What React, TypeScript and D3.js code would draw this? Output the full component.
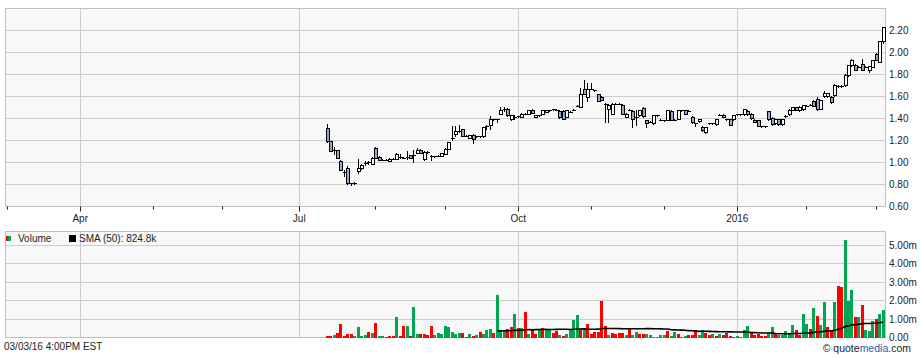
import React from 'react';
import * as d3 from 'd3';

// ---- calendar (TSX trading days) ----
const HOLIDAYS = ['2015-04-03', '2015-05-18', '2015-07-01', '2015-08-03', '2015-09-07', '2015-10-12', '2015-12-25', '2015-12-28', '2016-01-01', '2016-02-15'];
const RANGE_START = '2015-03-03';
const RANGE_END = '2016-03-03';
const DATA_START = '2015-07-14';

// ---- price data (OHLC) ----
const OPEN = [
  1.31, 1.20, 1.11, 1.11, 1.01, 0.915, 0.95, 0.81, 0.815, 0.925,
  0.95, 0.995, 1.005, 0.99, 1.135, 1.05, 1.025, 1.025, 1.015, 1.035,
  1.035, 1.05, 1.045, 1.05, 1.065, 1.065, 1.09, 1.115, 1.03, 1.095,
  1.055, 1.055, 1.06, 1.06, 1.08, 1.125, 1.21, 1.255, 1.285, 1.30,
  1.245, 1.225, 1.25, 1.24, 1.24, 1.245, 1.33, 1.345, 1.395, 1.395,
  1.445, 1.475, 1.49, 1.40, 1.415, 1.42, 1.415, 1.445, 1.445, 1.48,
  1.415, 1.43, 1.445, 1.46, 1.475, 1.485, 1.48, 1.47, 1.47, 1.415,
  1.46, 1.48, 1.515, 1.505, 1.665, 1.60, 1.67, 1.655, 1.62, 1.60,
  1.535, 1.49, 1.445, 1.535, 1.535, 1.525, 1.415, 1.48, 1.47, 1.415,
  1.43, 1.495, 1.385, 1.37, 1.355, 1.43, 1.39, 1.385, 1.39, 1.47,
  1.39, 1.40, 1.475, 1.475, 1.47, 1.415, 1.355, 1.375, 1.325, 1.275,
  1.355, 1.355, 1.35, 1.435, 1.435, 1.395, 1.395, 1.395, 1.44, 1.44,
  1.44, 1.47, 1.445, 1.39, 1.385, 1.33, 1.33, 1.465, 1.405, 1.355,
  1.395, 1.35, 1.42, 1.44, 1.48, 1.50, 1.475, 1.485, 1.515, 1.525,
  1.56, 1.575, 1.49, 1.605, 1.605, 1.60, 1.61, 1.695, 1.695, 1.70,
  1.795, 1.885, 1.89, 1.87, 1.90, 1.87, 1.84, 1.87, 1.99, 1.915,
  2.10,
];
const HIGH = [
  1.35, 1.20, 1.14, 1.115, 1.02, 0.935, 0.97, 0.815, 0.82, 1.035,
  0.99, 1.015, 1.01, 1.05, 1.14, 1.06, 1.035, 1.03, 1.04, 1.04,
  1.09, 1.08, 1.05, 1.10, 1.07, 1.11, 1.13, 1.12, 1.10, 1.10,
  1.07, 1.06, 1.065, 1.09, 1.13, 1.19, 1.335, 1.33, 1.34, 1.305,
  1.25, 1.25, 1.255, 1.245, 1.245, 1.32, 1.345, 1.42, 1.40, 1.40,
  1.50, 1.50, 1.495, 1.435, 1.43, 1.425, 1.45, 1.45, 1.48, 1.485,
  1.435, 1.435, 1.48, 1.48, 1.48, 1.49, 1.485, 1.475, 1.475, 1.48,
  1.465, 1.485, 1.52, 1.675, 1.75, 1.72, 1.72, 1.66, 1.625, 1.605,
  1.54, 1.53, 1.54, 1.54, 1.54, 1.53, 1.45, 1.485, 1.475, 1.475,
  1.48, 1.50, 1.39, 1.375, 1.43, 1.435, 1.395, 1.39, 1.48, 1.475,
  1.395, 1.48, 1.48, 1.48, 1.475, 1.42, 1.36, 1.40, 1.33, 1.325,
  1.36, 1.36, 1.40, 1.44, 1.44, 1.40, 1.40, 1.43, 1.445, 1.445,
  1.49, 1.475, 1.45, 1.395, 1.39, 1.335, 1.335, 1.47, 1.41, 1.40,
  1.40, 1.40, 1.43, 1.485, 1.50, 1.505, 1.51, 1.52, 1.52, 1.53,
  1.565, 1.60, 1.57, 1.65, 1.635, 1.605, 1.71, 1.70, 1.70, 1.80,
  1.89, 1.945, 1.90, 1.875, 1.94, 1.875, 1.88, 1.93, 2.00, 2.10,
  2.235,
];
const LOW = [
  1.19, 1.10, 1.075, 1.04, 0.93, 0.88, 0.805, 0.80, 0.805, 0.905,
  0.94, 0.975, 0.99, 0.985, 1.04, 1.02, 1.02, 1.02, 1.01, 1.03,
  1.03, 1.04, 1.04, 1.03, 1.045, 1.00, 1.085, 1.085, 1.02, 1.09,
  1.02, 1.05, 1.055, 1.055, 1.075, 1.12, 1.205, 1.24, 1.28, 1.24,
  1.24, 1.22, 1.18, 1.235, 1.235, 1.235, 1.30, 1.30, 1.385, 1.37,
  1.44, 1.47, 1.425, 1.39, 1.40, 1.41, 1.41, 1.44, 1.44, 1.45,
  1.41, 1.425, 1.44, 1.455, 1.47, 1.48, 1.475, 1.405, 1.40, 1.41,
  1.455, 1.475, 1.51, 1.50, 1.62, 1.555, 1.665, 1.65, 1.555, 1.565,
  1.37, 1.37, 1.44, 1.53, 1.53, 1.44, 1.41, 1.475, 1.32, 1.34,
  1.425, 1.415, 1.32, 1.365, 1.35, 1.425, 1.385, 1.38, 1.385, 1.385,
  1.385, 1.395, 1.47, 1.44, 1.465, 1.36, 1.33, 1.37, 1.29, 1.27,
  1.35, 1.35, 1.345, 1.43, 1.41, 1.39, 1.34, 1.39, 1.435, 1.435,
  1.435, 1.435, 1.40, 1.365, 1.33, 1.325, 1.325, 1.39, 1.34, 1.35,
  1.34, 1.345, 1.415, 1.435, 1.475, 1.475, 1.47, 1.48, 1.51, 1.52,
  1.51, 1.48, 1.485, 1.60, 1.60, 1.545, 1.605, 1.69, 1.69, 1.695,
  1.79, 1.88, 1.84, 1.865, 1.84, 1.865, 1.82, 1.865, 1.93, 1.91,
  2.09,
];
const CLOSE = [
  1.20, 1.10, 1.11, 1.045, 0.935, 0.915, 0.81, 0.81, 0.815, 0.95,
  0.975, 0.995, 1.005, 1.045, 1.045, 1.025, 1.025, 1.025, 1.035, 1.035,
  1.08, 1.05, 1.045, 1.05, 1.045, 1.065, 1.115, 1.09, 1.095, 1.095,
  1.055, 1.055, 1.06, 1.09, 1.125, 1.185, 1.225, 1.285, 1.285, 1.245,
  1.245, 1.25, 1.21, 1.24, 1.24, 1.32, 1.33, 1.40, 1.395, 1.395,
  1.475, 1.49, 1.43, 1.43, 1.415, 1.42, 1.445, 1.445, 1.475, 1.45,
  1.43, 1.43, 1.475, 1.475, 1.475, 1.485, 1.48, 1.41, 1.40, 1.475,
  1.46, 1.48, 1.515, 1.625, 1.625, 1.67, 1.67, 1.655, 1.56, 1.565,
  1.535, 1.525, 1.535, 1.535, 1.535, 1.445, 1.445, 1.48, 1.40, 1.415,
  1.475, 1.42, 1.355, 1.37, 1.43, 1.43, 1.39, 1.385, 1.475, 1.39,
  1.39, 1.475, 1.475, 1.445, 1.47, 1.365, 1.355, 1.40, 1.295, 1.325,
  1.355, 1.355, 1.395, 1.435, 1.415, 1.395, 1.345, 1.43, 1.44, 1.44,
  1.485, 1.44, 1.405, 1.37, 1.335, 1.33, 1.33, 1.395, 1.35, 1.395,
  1.35, 1.395, 1.42, 1.48, 1.50, 1.475, 1.505, 1.52, 1.515, 1.525,
  1.51, 1.49, 1.565, 1.635, 1.635, 1.55, 1.70, 1.695, 1.695, 1.795,
  1.885, 1.935, 1.845, 1.87, 1.845, 1.87, 1.875, 1.93, 1.935, 2.10,
  2.235,
];

// ---- volume (millions of shares) and up/down day ----
const VOLUME_M = [
  0.09, 0.09, 0.15, 0.27, 0.75, 0.06, 0.2, 0.2, 0.09, 0.58,
  0.09, 0.15, 0.31, 0.27, 0.78, 0.09, 0.09, 0.04, 0.09, 0.09,
  1.11, 0.09, 0.64, 0.64, 0.09, 1.67, 0.2, 0.2, 0.2, 0.15,
  0.64, 0.15, 0.27, 0.2, 0.64, 0.57, 0.31, 0.2, 0.27, 0.27,
  0.04, 0.2, 0.09, 0.15, 0.31, 0.2, 0.42, 0.48, 0.27, 2.33,
  0.42, 0.42, 0.46, 0.55, 1.29, 0.51, 0.51, 1.4, 0.2, 0.46,
  0.2, 0.46, 0.51, 0.46, 0.46, 0.24, 0.38, 0.15, 0.06, 0.2,
  0.46, 0.97, 1.24, 0.46, 0.46, 0.75, 0.2, 0.31, 0.31,
  2.0, 0.6, 0.15, 0.27, 0.2, 0.27, 0.27, 0.15, 0.46, 0.15,
  0.31, 0.2, 0.2, 0.2, 0.15, 0.05, 0.05, 0.15, 0.11, 0.36,
  0.09, 0.31, 0.2, 0.05, 0.09, 0.16, 0.11, 0.35, 0.16, 0.42,
  0.27, 0.13, 0.2, 0.09, 0.2, 0.15, 0.24, 0.09, 0.05, 0.09,
  0.05, 0.42, 0.64, 0.24, 0.15, 0.2, 0.09, 0.09, 0.24, 0.56,
  0.24, 0.15, 0.15, 0.36, 0.2, 0.69, 0.42, 0.15, 1.29, 0.75,
  0.47, 1.6, 1.18, 0.69, 1.91, 0.56, 0.33, 1.91, 2.82, 2.75,
  5.3, 1.97, 2.6, 1.09, 1.09, 1.79, 0.42, 0.36, 0.91, 1.0,
  1.29, 1.47,
];
const VOLUME_DIR =
  'rrgrrrrrgg' + 'ggrgrggrrr' + 'grrgrggrrr' + 'rggggggggr' + 'rgrgrgggrg' +
  'ggrrgrgrgr' + 'rgrggrrgrg' + 'gggrgrrrr' +
  'rrgrrrrgrg' + 'grrggggggr' + 'ggrggrrrgg' + 'rrgrgrrrrg' + 'gggrrrrrgg' +
  'rggggg' + 'rrgg' + 'rgrggrrgrr' + 'gggrgrgggr' + 'gg';

const PRICE_TICKS = [0.6, 0.8, 1.0, 1.2, 1.4, 1.6, 1.8, 2.0, 2.2];
const PRICE_DOMAIN = [0.6, 2.4];
const VOLUME_TICKS_M = [0, 1, 2, 3, 4, 5];
const SMA_PERIOD = 50;
const SMA_LABEL = 'SMA (50): 824.8k';
const VOLUME_LABEL = 'Volume';
const TIMESTAMP = '03/03/16 4:00PM EST';

const FONT = "'Liberation Sans', Arial, sans-serif";
const GRID = '#cccccc';
const BORDER = '#bfbfbf';
const PANEL_BG = '#f8f8f8';
const CANDLE_DOWN = '#93a7c9';
const VOL_UP = '#00a651';
const VOL_DOWN = '#ff0000';

export default function App() {
  const W = 920, H = 358;
  const L = 5, R = 885;
  const pTop = 8.5, pBot = 206.5;
  const vTop = 231.5, vBot = 337.5;

  const key = d3.utcFormat('%Y-%m-%d');
  const parse = d3.utcParse('%Y-%m-%d');
  const days = d3.utcDay
    .range(parse(RANGE_START)!, d3.utcDay.offset(parse(RANGE_END)!, 1))
    .filter((d) => d.getUTCDay() !== 0 && d.getUTCDay() !== 6 && !HOLIDAYS.includes(key(d)));
  const keys = days.map(key);

  const x = d3.scaleBand<string>().domain(keys).range([L + 0.5, R]).padding(0);
  const bw = x.bandwidth();
  const cx = (k: string) => (x(k) as number) + bw / 2;

  const yP = d3.scaleLinear().domain(PRICE_DOMAIN).range([pBot, pTop]);
  const yV = d3.scaleLinear().domain([0, 5]).range([vBot, 245.5]);

  const startIdx = keys.indexOf(DATA_START);
  const data = CLOSE.map((c, i) => ({
    key: keys[startIdx + i],
    o: OPEN[i], h: HIGH[i], l: LOW[i], c,
    v: VOLUME_M[i],
    up: VOLUME_DIR[i] === 'g',
  }));

  // month ticks: first trading day of each month in range
  const monthTicks: { k: string; d: Date; major: boolean; label: string }[] = [];
  days.forEach((d, i) => {
    if (i === 0 || d.getUTCMonth() !== days[i - 1].getUTCMonth()) {
      const m = d.getUTCMonth();
      const major = m % 3 === 0;
      const label = m === 0 ? d3.utcFormat('%Y')(d) : d3.utcFormat('%b')(d);
      monthTicks.push({ k: keys[i], d, major, label });
    }
  });
  const majors = monthTicks.filter((t) => t.major);

  // SMA of volume
  const sma = data.map((d, i) => {
    if (i < SMA_PERIOD - 1) return null;
    return d3.mean(data.slice(i - SMA_PERIOD + 1, i + 1), (e) => e.v) as number;
  });
  const smaLine = d3
    .line<{ key: string; s: number | null }>()
    .defined((p) => p.s !== null)
    .x((p) => cx(p.key))
    .y((p) => yV(p.s as number));
  const smaPts = data.map((d, i) => ({ key: d.key, s: sma[i] }));

  const crisp = (v: number) => Math.round(v - 0.5) + 0.5;

  return (
    <svg width={W} height={H} style={{ position: 'absolute', left: 0, top: 0, background: '#fff' }} fontFamily={FONT}>
      {/* price panel */}
      <rect x={L + 0.5} y={pTop} width={R - L} height={pBot - pTop} fill={PANEL_BG} />
      {PRICE_TICKS.map((t) => (
        <line key={t} x1={L} x2={R} y1={crisp(yP(t))} y2={crisp(yP(t))} stroke={GRID} />
      ))}
      {majors.map((t) => (
        <line key={t.k} x1={crisp(cx(t.k))} x2={crisp(cx(t.k))} y1={pTop} y2={pBot} stroke={GRID} />
      ))}
      <rect x={L + 0.5} y={pTop} width={R - L} height={pBot - pTop} fill="none" stroke={BORDER} />

      {/* candles */}
      {data.map((d) => {
        const r = Math.floor(cx(d.key));
        const yo = Math.round(yP(d.o));
        const yc = Math.round(yP(d.c));
        const yh = Math.round(yP(d.h));
        const yl = Math.round(yP(d.l));
        const top = Math.min(yo, yc);
        const bot = Math.max(yo, yc);
        const down = d.c < d.o;
        return (
          <g key={d.key}>
            <line x1={r + 0.5} x2={r + 0.5} y1={yh} y2={yl + 1} stroke="#000" />
            {bot - top < 2 ? (
              <line x1={r - 1} x2={r + 3} y1={top + 0.5} y2={top + 0.5} stroke="#000" />
            ) : (
              <rect x={r - 0.5} y={top + 0.5} width={3} height={bot - top} fill={down ? CANDLE_DOWN : '#fff'} stroke="#000" />
            )}
          </g>
        );
      })}

      {/* price axis labels */}
      {PRICE_TICKS.map((t) => (
        <text key={t} x={889} y={yP(t)} dy="0.35em" fontSize={10} fill="#222">
          {d3.format('.2f')(t)}
        </text>
      ))}

      {/* time axis */}
      {monthTicks.map((t) => (
        <line key={t.k} x1={crisp(cx(t.k))} x2={crisp(cx(t.k))} y1={pBot} y2={pBot + (t.major ? 5 : 3)} stroke="#222" />
      ))}
      {majors.map((t) => (
        <text key={t.k} x={cx(t.k)} y={222} textAnchor="middle" fontSize={10} fill="#222">
          {t.label}
        </text>
      ))}

      {/* volume panel */}
      <rect x={L + 0.5} y={vTop} width={R - L} height={vBot - vTop} fill={PANEL_BG} />
      {VOLUME_TICKS_M.map((t) => (
        <line key={t} x1={L} x2={R} y1={crisp(yV(t))} y2={crisp(yV(t))} stroke={GRID} />
      ))}
      {majors.map((t) => (
        <line key={t.k} x1={crisp(cx(t.k))} x2={crisp(cx(t.k))} y1={vTop} y2={vBot} stroke={GRID} />
      ))}
      <rect x={L + 0.5} y={vTop} width={R - L} height={vBot - vTop} fill="none" stroke={BORDER} />

      {data.map((d) => {
        const r = Math.floor(cx(d.key));
        const yt = Math.round(yV(d.v));
        return (
          <rect key={d.key} x={r - 1} y={yt} width={3} height={Math.max(1, vBot + 0.5 - yt)} fill={d.up ? VOL_UP : VOL_DOWN} />
        );
      })}
      <path d={smaLine(smaPts) || ''} fill="none" stroke="#000" strokeWidth={1.6} />

      {VOLUME_TICKS_M.map((t) => (
        <text key={t} x={889} y={yV(t)} dy="0.35em" fontSize={10} fill="#222">
          {t === 0 ? '0.00' : d3.format('.2f')(t) + 'm'}
        </text>
      ))}

      {/* legend */}
      <rect x={6} y={236} width={3} height={5} fill={VOL_DOWN} />
      <rect x={8} y={236} width={3} height={5} fill={VOL_UP} />
      <text x={18} y={241.5} fontSize={10} fill="#222">{VOLUME_LABEL}</text>
      <rect x={69} y={235} width={7} height={7} fill="#000" />
      <text x={79} y={241.5} fontSize={10} fill="#222">{SMA_LABEL}</text>

      {/* footer */}
      <text x={4} y={350} fontSize={10} fill="#222">{TIMESTAMP}</text>
      <text x={911} y={352} textAnchor="end" fontSize={10.5} fill="#222">
        © quote<tspan fill="#1f5fae">media</tspan>.com
      </text>
    </svg>
  );
}
